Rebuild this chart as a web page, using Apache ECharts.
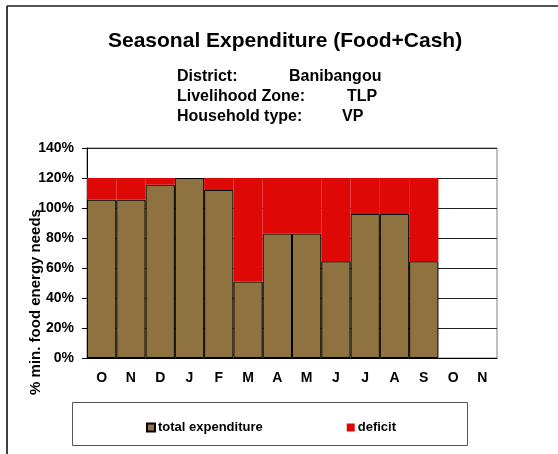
<!DOCTYPE html>
<html>
<head>
<meta charset="utf-8">
<script src="https://cdn.jsdelivr.net/npm/echarts@6/dist/echarts.min.js"></script>
<style>
  html, body { margin: 0; padding: 0; background: #fff; }
  #chart { width: 558px; height: 454px; }
</style>
</head>
<body>
<div id="chart"></div>
<script>
// 月份（10月起）
const months = ['O', 'N', 'D', 'J', 'F', 'M', 'A', 'M', 'J', 'J', 'A', 'S', 'O', 'N']
// 总支出 %（O、N 最后两个没数据）
const totalExpenditure = [105.5, 105.5, 115.5, 120, 112, 51, 83, 83, 64.5, 96, 96, 64.5, null, null]
// 缺口 = 120 - 总支出
const deficit = [14.5, 14.5, 4.5, 0, 8, 69, 37, 37, 55.5, 24, 24, 55.5, null, null]
const yTicks = [0, 20, 40, 60, 80, 100, 120, 140]

const font = 'Arial, "Liberation Sans", sans-serif'
const brown = '#8e7240'
const red = '#de0806'

const myChart = echarts.init(document.getElementById('chart'))

const option = {
  animation: false,
  backgroundColor: '#fff',
  title: {
    text: 'Seasonal Expenditure (Food+Cash)',
    left: 103,
    top: 26,
    textStyle: { fontFamily: font, fontSize: 21, fontWeight: 'bold', color: '#000' }
  },
  grid: {
    left: 87,
    right: 61,
    top: 148,
    bottom: 96,
    show: true,
    borderColor: '#808080',
    borderWidth: 1,
    containLabel: false
  },
  legend: {
    left: 141,
    top: 416,
    itemWidth: 8,
    itemHeight: 8,
    itemGap: 84,
    icon: 'rect',
    textStyle: { fontFamily: font, fontSize: 13, fontWeight: 'bold', color: '#000', padding: [0, 0, 0, -2] },
    data: ['total expenditure', 'deficit']
  },
  xAxis: {
    type: 'category',
    data: months,
    axisLine: { lineStyle: { color: '#000', width: 1 } },
    axisTick: { length: 5, lineStyle: { color: '#000' } },
    axisLabel: { fontFamily: font, fontSize: 14, fontWeight: 'bold', color: '#000', margin: 13 }
  },
  yAxis: {
    type: 'value',
    min: 0,
    max: 140,
    interval: 20,
    axisLine: { show: true, lineStyle: { color: '#000', width: 1 } },
    axisTick: { show: true, length: 5, lineStyle: { color: '#000' } },
    axisLabel: {
      fontFamily: font, fontSize: 14, fontWeight: 'bold', color: '#000', margin: 13,
      formatter: v => yTicks.includes(v) ? v + '%' : ''
    },
    splitLine: { lineStyle: { color: '#222', width: 1 } }
  },
  series: [
    {
      name: 'total expenditure',
      type: 'bar',
      stack: 'exp',
      barCategoryGap: '0%',
      data: totalExpenditure,
      itemStyle: { color: brown, borderColor: '#000', borderWidth: 1 }
    },
    {
      name: 'deficit',
      type: 'bar',
      stack: 'exp',
      barCategoryGap: '0%',
      data: deficit,
      itemStyle: { color: red, borderWidth: 0 }
    }
  ],
  graphic: [
    // 外框
    { type: 'line', shape: { x1: 7, y1: 6, x2: 558, y2: 6 }, style: { stroke: '#555', lineWidth: 2 } },
    { type: 'line', shape: { x1: 7, y1: 6, x2: 7, y2: 454 }, style: { stroke: '#000', lineWidth: 1.5 } },
    // 副标题
    { type: 'text', left: 177, top: 69, style: { text: 'District:', font: 'bold 16px ' + font, fill: '#000' } },
    { type: 'text', left: 289, top: 69, style: { text: 'Banibangou', font: 'bold 16px ' + font, fill: '#000' } },
    { type: 'text', left: 177, top: 89, style: { text: 'Livelihood Zone:', font: 'bold 16px ' + font, fill: '#000' } },
    { type: 'text', left: 347, top: 89, style: { text: 'TLP', font: 'bold 16px ' + font, fill: '#000' } },
    { type: 'text', left: 177, top: 109, style: { text: 'Household type:', font: 'bold 16px ' + font, fill: '#000' } },
    { type: 'text', left: 342, top: 109, style: { text: 'VP', font: 'bold 16px ' + font, fill: '#000' } },
    // y轴标题
    {
      type: 'text',
      x: 36, y: 302,
      rotation: Math.PI / 2,
      style: {
        text: '% min. food energy needs',
        font: 'bold 15px ' + font,
        fill: '#000',
        align: 'center',
        verticalAlign: 'middle'
      }
    },
    // 图例框
    {
      type: 'rect',
      z: -1,
      shape: { x: 72.5, y: 402.5, width: 395, height: 43 },
      style: { fill: '#fff', stroke: '#555', lineWidth: 1 }
    }
  ]
}

myChart.setOption(option)
</script>
</body>
</html>
